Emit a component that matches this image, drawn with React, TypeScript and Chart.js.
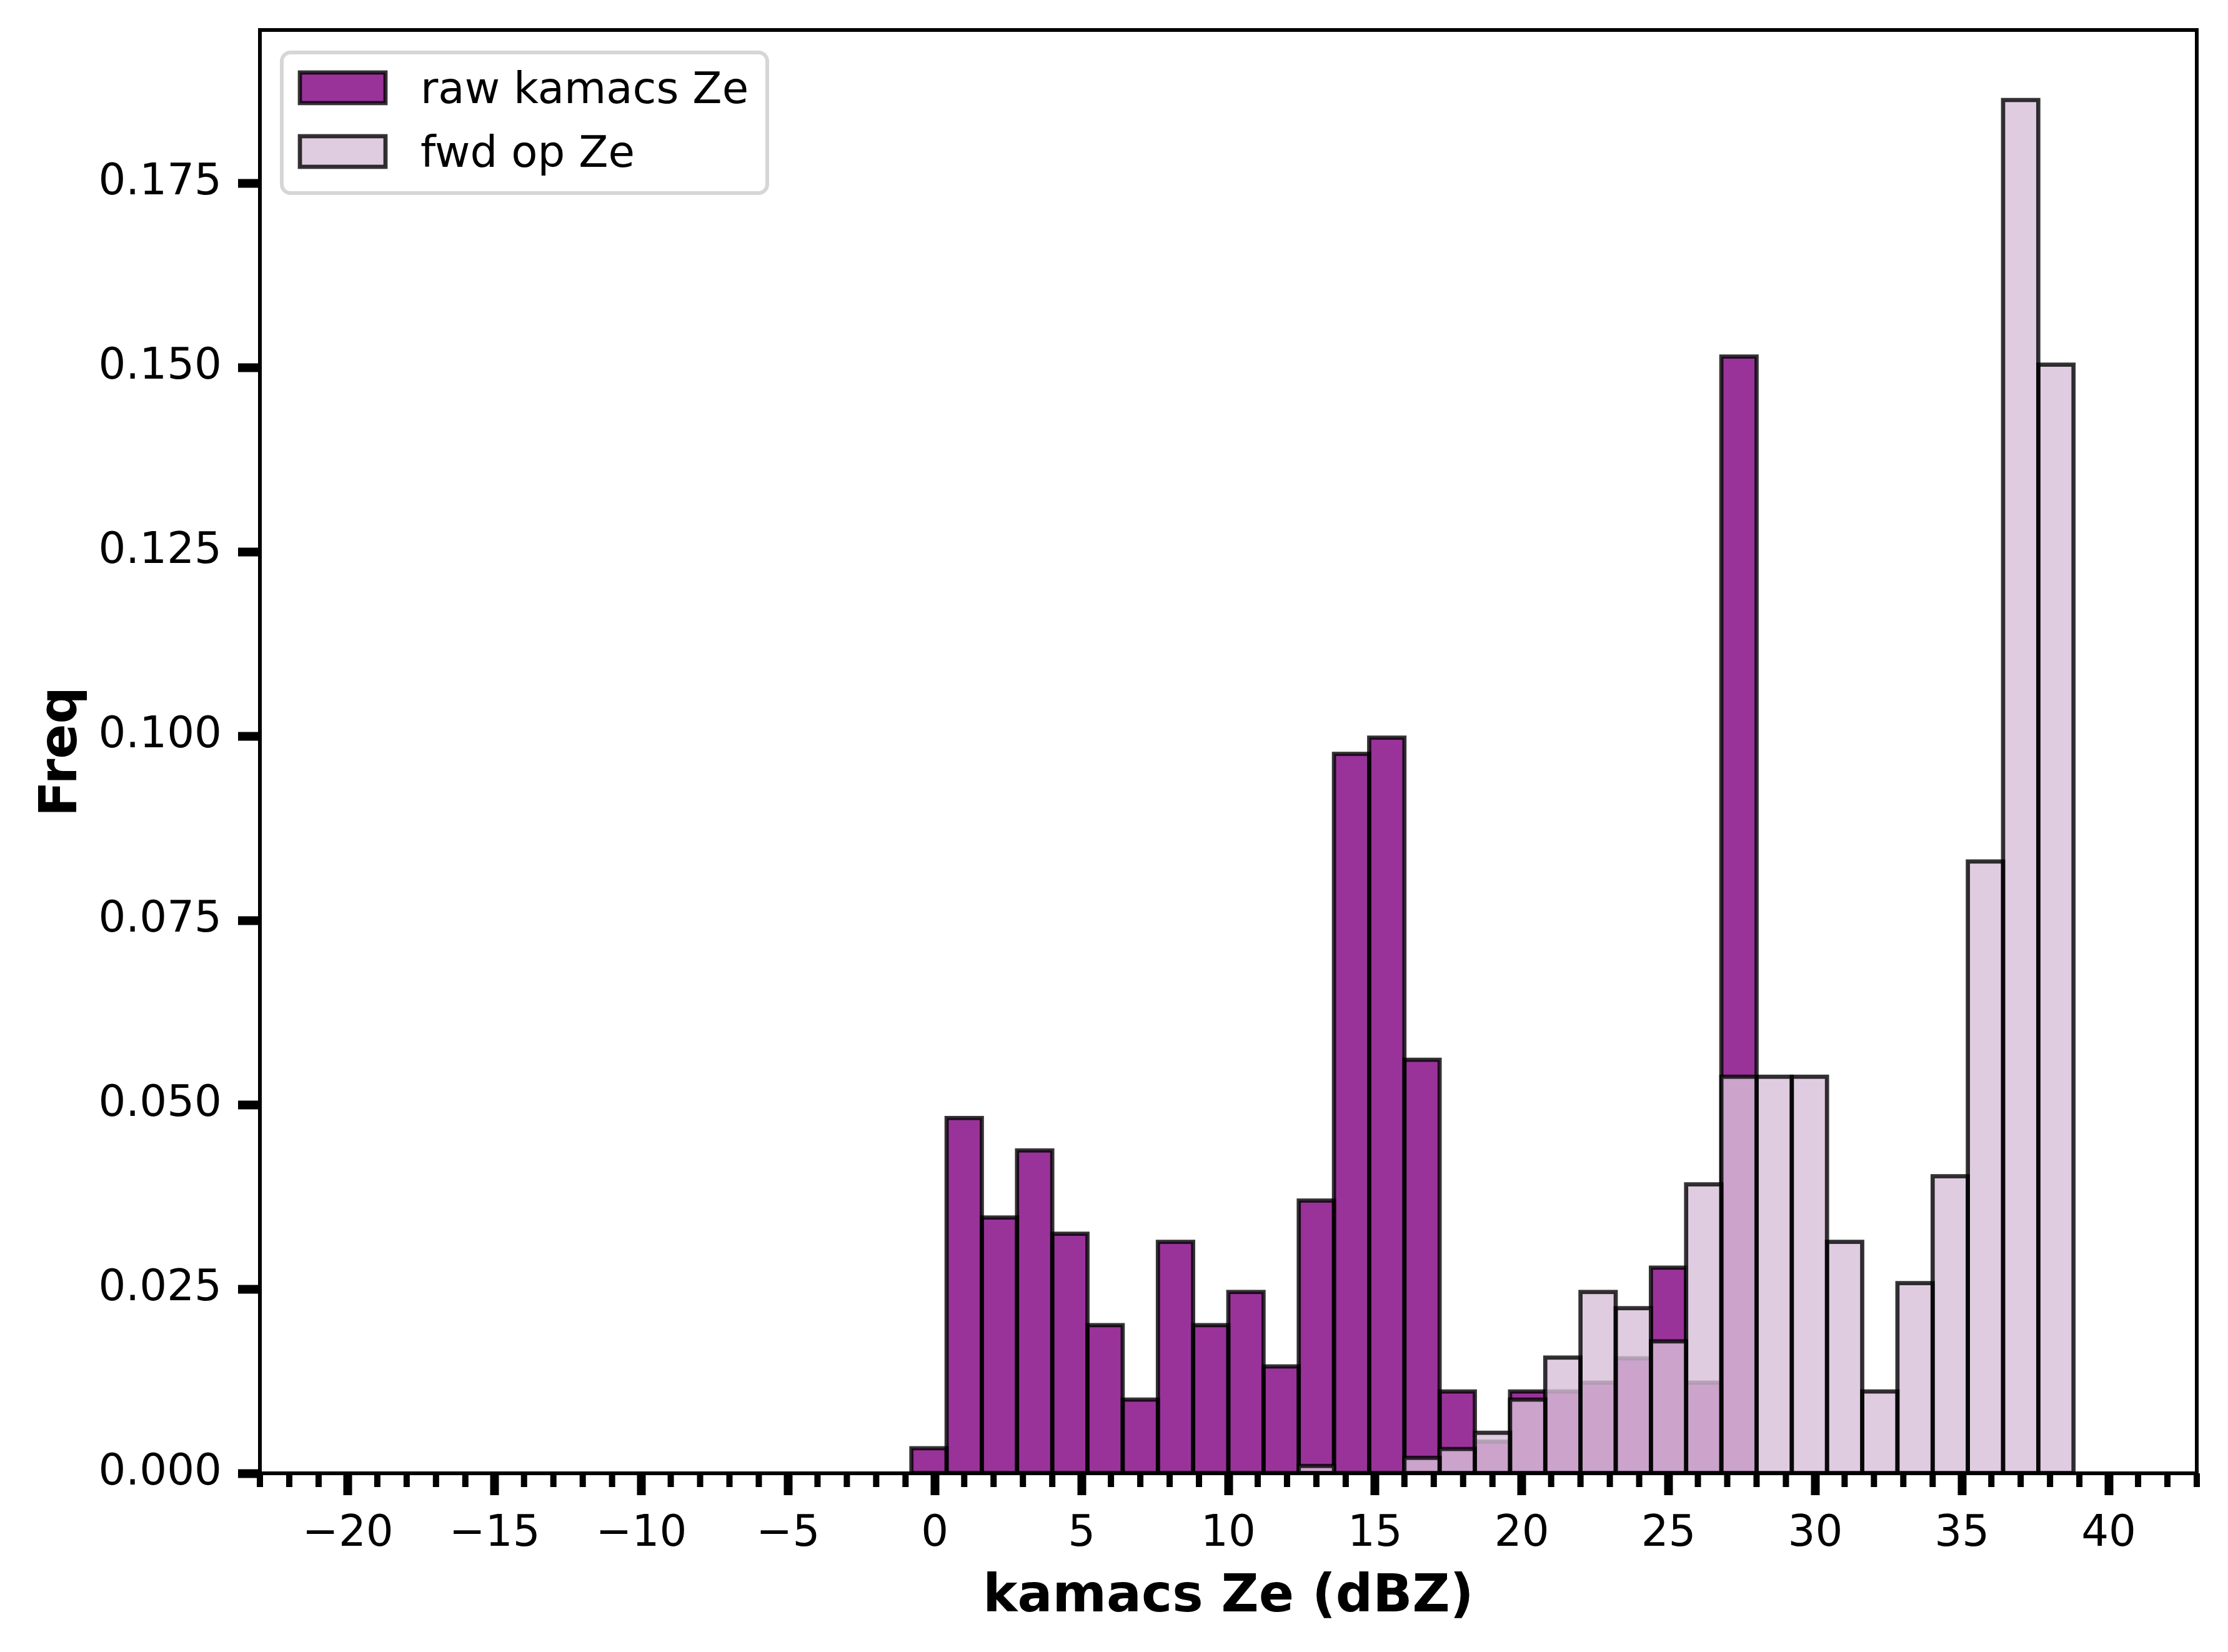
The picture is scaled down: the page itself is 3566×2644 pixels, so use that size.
import { useEffect, useRef } from 'react';
import { Chart, ChartConfiguration, Plugin, registerables } from 'chart.js';

Chart.register(...registerables);
Chart.defaults.font.family = 'DejaVu Sans';

// histogram bins (1.2 dBZ wide), centres of the non-empty ones
const binCenters = [
  -0.2, 1.0, 2.2, 3.4, 4.6, 5.8, 7.0, 8.2, 9.4, 10.6, 11.8,
  13.0, 14.2, 15.4, 16.6, 17.8, 19.0, 20.2, 21.4, 22.6, 23.8, 25.0,
  26.2, 27.4, 28.6, 29.8, 31.0, 32.2, 33.4, 34.6, 35.8, 37.0, 38.2,
];
const rawFreq = [
  0.0034, 0.0482, 0.0347, 0.0438, 0.0325, 0.0201, 0.0100, 0.0314, 0.0201, 0.0246, 0.0145,
  0.0370, 0.0976, 0.0998, 0.0561, 0.0111, 0.0043, 0.0111, 0.0111, 0.0123, 0.0156, 0.0279,
  0.0123, 0.1515, 0, 0, 0, 0, 0, 0, 0, 0, 0,
];
const fwdFreq = [
  0, 0, 0, 0, 0, 0, 0, 0, 0, 0, 0,
  0.0010, 0, 0, 0.0021, 0.0033, 0.0055, 0.0100, 0.0157, 0.0246, 0.0224, 0.0179,
  0.0392, 0.0538, 0.0538, 0.0538, 0.0314, 0.0111, 0.0258, 0.0403, 0.0830, 0.1863, 0.1504,
];

const xMajorTicks = [-20, -15, -10, -5, 0, 5, 10, 15, 20, 25, 30, 35, 40];
const yTicks = [0, 0.025, 0.05, 0.075, 0.1, 0.125, 0.15, 0.175];
const xRange = [-23, 43];
const yRange = [0, 0.1958];

const seriesLabels = ['raw kamacs Ze', 'fwd op Ze'];
const seriesColors = ['rgba(128, 0, 128, 0.8)', 'rgba(216, 191, 216, 0.8)'];
const EDGE = 'rgba(0, 0, 0, 0.8)';
const EDGE_W = 6.7;

// matplotlib-style edges: stroke centred on the bar outline
const histEdges: Plugin<'bar'> = {
  id: 'histEdges',
  afterDatasetDraw(chart, args) {
    const { ctx } = chart;
    const values = chart.data.datasets[args.index].data as { x: number; y: number }[];
    ctx.save();
    ctx.lineWidth = EDGE_W;
    ctx.strokeStyle = EDGE;
    args.meta.data.forEach((bar, i) => {
      if (!values[i].y) return;
      const { x, y, base, width } = bar.getProps(['x', 'y', 'base', 'width'], true) as any;
      ctx.strokeRect(x - width / 2, y, width, base - y);
    });
    ctx.restore();
  },
};

const frame: Plugin<'bar'> = {
  id: 'frame',
  afterDatasetsDraw(chart) {
    const { ctx, chartArea: a } = chart;
    const xs = chart.scales.x;
    ctx.save();
    // minor ticks every 1 dBZ
    ctx.strokeStyle = '#000';
    ctx.lineWidth = 10;
    for (let v = Math.ceil(xRange[0]); v <= xRange[1]; v++) {
      if (v % 5 === 0) continue;
      const px = xs.getPixelForValue(v);
      ctx.beginPath();
      ctx.moveTo(px, a.bottom);
      ctx.lineTo(px, a.bottom + 22);
      ctx.stroke();
    }
    ctx.lineWidth = 6;
    ctx.strokeRect(a.left, a.top, a.right - a.left, a.bottom - a.top);
    ctx.restore();
  },
  afterDraw(chart) {
    const { ctx } = chart;
    ctx.save();
    ctx.beginPath();
    ctx.roundRect(451, 84, 777, 225, 14);
    ctx.fillStyle = 'rgba(255, 255, 255, 0.8)';
    ctx.fill();
    ctx.lineWidth = 6;
    ctx.strokeStyle = 'rgba(204, 204, 204, 0.8)';
    ctx.stroke();
    seriesLabels.forEach((label, i) => {
      const top = 116 + i * 102;
      ctx.fillStyle = seriesColors[i];
      ctx.fillRect(480, top, 137, 49);
      ctx.lineWidth = EDGE_W;
      ctx.strokeStyle = EDGE;
      ctx.strokeRect(480, top, 137, 49);
      ctx.fillStyle = '#000';
      ctx.font = '69px "DejaVu Sans"';
      ctx.textBaseline = 'alphabetic';
      ctx.fillText(label, 673, 165 + i * 102);
    });
    ctx.restore();
  },
};

const fmtX = (v: number) => (v < 0 ? '\u2212' + Math.abs(v) : String(v));

export default function App() {
  const canvasRef = useRef<HTMLCanvasElement>(null);
  const chartRef = useRef<Chart | null>(null);

  useEffect(() => {
    if (!canvasRef.current) return;
    if (chartRef.current) chartRef.current.destroy();

    const tickFont = { size: 69, family: 'DejaVu Sans' };
    const titleFont = { size: 83, weight: 'bold' as const, family: 'DejaVu Sans' };

    const config: ChartConfiguration<'bar'> = {
      type: 'bar',
      data: {
        datasets: [
          {
            label: seriesLabels[0],
            data: binCenters.map((x, i) => ({ x, y: rawFreq[i] })) as any,
            backgroundColor: seriesColors[0],
            borderWidth: 0,
            order: 1,
          },
          {
            label: seriesLabels[1],
            data: binCenters.map((x, i) => ({ x, y: fwdFreq[i] })) as any,
            backgroundColor: seriesColors[1],
            borderWidth: 0,
            order: 0,
          },
        ],
      },
      options: {
        responsive: false,
        animation: false,
        devicePixelRatio: 1,
        layout: { padding: { left: 0, top: 48, right: 50, bottom: 0 } },
        datasets: {
          bar: { grouped: false, barPercentage: 1, categoryPercentage: 1, inflateAmount: 0 },
        },
        plugins: { legend: { display: false }, tooltip: { enabled: false } },
        scales: {
          x: {
            type: 'linear',
            min: xRange[0],
            max: xRange[1],
            offset: false,
            afterBuildTicks: (scale) => {
              scale.ticks = xMajorTicks.map((value) => ({ value }));
            },
            afterFit: (scale) => {
              scale.height = 286;
              scale.paddingLeft = 0;
              scale.paddingRight = 0;
            },
            ticks: {
              autoSkip: false,
              maxRotation: 0,
              padding: 22,
              color: '#000',
              font: tickFont,
              callback: (v) => fmtX(Number(v)),
            },
            grid: {
              display: true,
              drawOnChartArea: false,
              offset: false,
              tickLength: 35,
              tickWidth: 14,
              tickColor: '#000',
            },
            border: { display: false },
            title: {
              display: true,
              text: 'kamacs Ze (dBZ)',
              color: '#000',
              font: titleFont,
              padding: { top: 0, bottom: 37 },
            },
          },
          y: {
            type: 'linear',
            min: yRange[0],
            max: yRange[1],
            afterBuildTicks: (scale) => {
              scale.ticks = yTicks.map((value) => ({ value }));
            },
            afterFit: (scale) => {
              scale.width = 416;
              scale.paddingTop = 0;
              scale.paddingBottom = 0;
            },
            ticks: {
              padding: 26,
              color: '#000',
              font: tickFont,
              callback: (v) => Number(v).toFixed(3),
            },
            grid: {
              display: true,
              drawOnChartArea: false,
              tickLength: 35,
              tickWidth: 14,
              tickColor: '#000',
            },
            border: { display: false },
            title: {
              display: true,
              text: 'Freq',
              color: '#000',
              font: titleFont,
              padding: { top: 51, bottom: 0 },
            },
          },
        },
      },
      plugins: [histEdges, frame],
    };

    chartRef.current = new Chart(canvasRef.current, config);

    return () => {
      if (chartRef.current) {
        chartRef.current.destroy();
        chartRef.current = null;
      }
    };
  }, []);

  return (
    <div style={{ position: 'absolute', left: 0, top: 0, width: 3566, height: 2644, background: '#fff' }}>
      <canvas ref={canvasRef} width={3566} height={2644} style={{ display: 'block', width: 3566, height: 2644 }} />
    </div>
  );
}
